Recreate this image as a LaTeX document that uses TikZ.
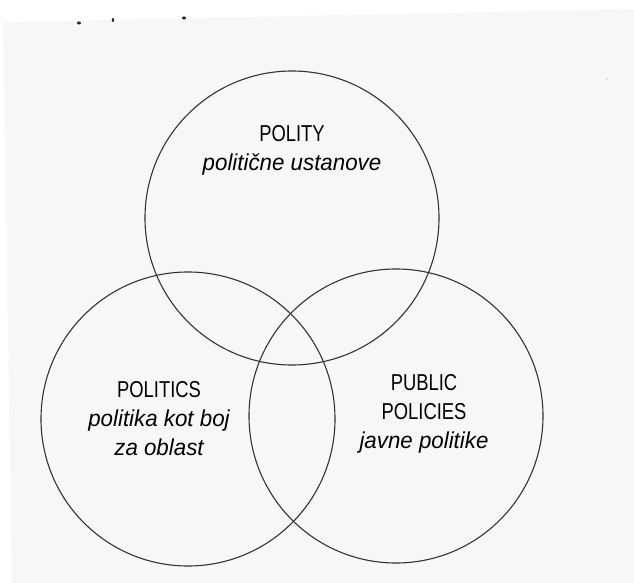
\documentclass[tikz,border=0pt]{standalone}
\usepackage{fontspec}
\newfontfamily\univ{Liberation Sans}[FakeStretch=0.8]
\newfontfamily\univit{Liberation Sans}[FakeStretch=0.97]
\newcommand\slo[1]{{\univit\itshape #1}}
\usetikzlibrary{calc,positioning}

\begin{document}
\begin{tikzpicture}[x=1pt, y=-1pt, line join=round,
  ring/.style={draw=black!80, line width=1.1pt},
  lbl/.style={align=center, text=black, inner sep=0pt,
    font=\univ\fontsize{23}{29}\selectfont}]
\useasboundingbox (0,0) rectangle (634,583);
% scanned page
\fill[black!3] (3,22) -- (634,9) -- (634,583) -- (12,583) -- cycle;
\fill[black!85] (79,23) ellipse (2pt and 1.5pt);
\fill[black!85] (113,20) ellipse (1.2pt and 2pt);
\fill[black!85] (184,18) ellipse (2pt and 1.5pt);
\fill[black!20] (607,79) circle (0.8pt);
% circles
\coordinate (polity)   at (292,218);
\coordinate (politics) at (188,419);
\coordinate (policies) at (396,416);
\draw[ring] (polity)   circle (147pt);
\draw[ring] (politics) circle (147pt);
\draw[ring] (policies) circle (147pt);
% labels
\node[lbl] (polityname)   at ($(polity)+(0,-68)$)   {POLITY\\\slo{politične ustanove}};
\node[lbl] (politicsname) at ($(politics)+(-29,0)$) {POLITICS\\\slo{politika kot boj}\\\slo{za oblast}};
\node[lbl] (policiesname) at ($(policies)+(28,-2)$) {PUBLIC\\POLICIES\\\slo{javne politike}};
\end{tikzpicture}
\end{document}
